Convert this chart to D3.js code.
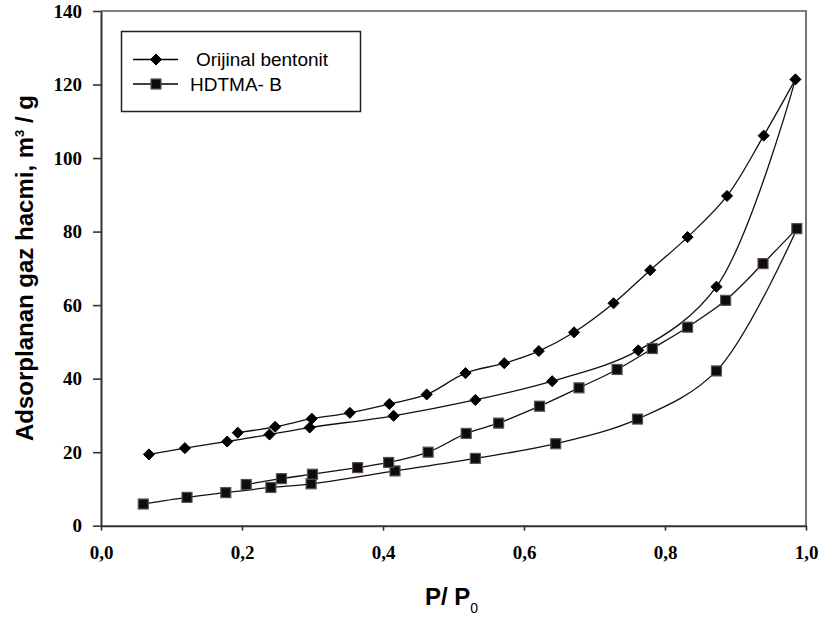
<!DOCTYPE html>
<html>
<head>
<meta charset="utf-8">
<script src="https://cdn.jsdelivr.net/npm/d3@7"></script>
<style>
  body { margin: 0; background: #fff; }
  svg { display: block; }
</style>
</head>
<body>
<div id="scene"></div>
<script>
// relative pressure P/P0 and adsorbed volume, per branch
var origAdsP = [0.068, 0.119, 0.179, 0.239, 0.296, 0.415, 0.531, 0.640, 0.762, 0.873, 0.985];
var origAdsV = [19.4, 21.1, 22.9, 24.8, 26.7, 29.9, 34.2, 39.3, 47.7, 65.0, 121.4];
var origDesP = [0.940, 0.888, 0.832, 0.779, 0.727, 0.671, 0.621, 0.572, 0.517, 0.462, 0.409, 0.353, 0.299, 0.247, 0.194];
var origDesV = [106.1, 89.7, 78.5, 69.5, 60.5, 52.6, 47.5, 44.2, 41.5, 35.7, 33.1, 30.7, 29.1, 26.9, 25.3];

var hdtmaAdsP = [0.060, 0.122, 0.177, 0.241, 0.298, 0.417, 0.531, 0.645, 0.761, 0.873, 0.987];
var hdtmaAdsV = [5.9, 7.7, 9.0, 10.4, 11.4, 14.9, 18.3, 22.3, 29.0, 42.1, 80.8];
var hdtmaDesP = [0.939, 0.886, 0.832, 0.782, 0.732, 0.678, 0.622, 0.564, 0.518, 0.464, 0.408, 0.364, 0.300, 0.256, 0.206];
var hdtmaDesV = [71.3, 61.3, 54.0, 48.2, 42.5, 37.5, 32.5, 27.9, 25.1, 20.0, 17.2, 15.8, 14.0, 12.8, 11.2];

var xTicks = [0, 0.2, 0.4, 0.6, 0.8, 1.0];
var yTicks = [0, 20, 40, 60, 80, 100, 120, 140];
var seriesNames = ["Orijinal bentonit", "HDTMA- B"];

var ctx = { w: 821, h: 619, left: 101, right: 806, top: 11, bottom: 525.7 };

var svg = d3.select("#scene").append("svg")
  .attr("width", ctx.w)
  .attr("height", ctx.h);

var x = d3.scaleLinear().domain([0, 1]).range([ctx.left, ctx.right]);
var y = d3.scaleLinear().domain([0, 140]).range([ctx.bottom, ctx.top]);

var zip = function (px, py) {
  return px.map(function (p, i) { return [p, py[i]]; });
};

// frame (top and right)
svg.append("path")
  .attr("d", "M" + ctx.left + "," + ctx.top + "H" + ctx.right + "V" + ctx.bottom)
  .attr("fill", "none")
  .attr("stroke", "#555")
  .attr("stroke-width", 1.6);

// axes
var xAxis = svg.append("g")
  .attr("transform", "translate(0," + ctx.bottom + ")")
  .call(d3.axisBottom(x).tickValues(xTicks).tickSize(5).tickSizeOuter(0)
    .tickFormat(function (d) { return d3.format(".1f")(d).replace(".", ","); }));

var yAxis = svg.append("g")
  .attr("transform", "translate(" + ctx.left + ",0)")
  .call(d3.axisLeft(y).tickValues(yTicks).tickSize(8).tickSizeOuter(0));

[xAxis, yAxis].forEach(function (ax) {
  ax.attr("font-family", "'Liberation Serif', 'Times New Roman', serif");
  ax.select(".domain").attr("stroke", "#333").attr("stroke-width", 2);
  ax.selectAll(".tick line").attr("stroke", "#333").attr("stroke-width", 1.6);
  ax.selectAll(".tick text")
    .attr("fill", "#000")
    .style("font-family", "'Liberation Serif', 'Times New Roman', serif")
    .style("font-weight", "bold")
    .style("font-size", "19px");
});
xAxis.selectAll(".tick text").attr("y", 33.5).attr("dy", 0);
yAxis.selectAll(".tick text").attr("x", -19);

// curves
var line = d3.line()
  .x(function (d) { return x(d[0]); })
  .y(function (d) { return y(d[1]); })
  .curve(d3.curveCatmullRom.alpha(0.5));

var branches = [
  zip(origAdsP, origAdsV),
  [[origAdsP[origAdsP.length - 1], origAdsV[origAdsV.length - 1]]].concat(zip(origDesP, origDesV)),
  zip(hdtmaAdsP, hdtmaAdsV),
  [[hdtmaAdsP[hdtmaAdsP.length - 1], hdtmaAdsV[hdtmaAdsV.length - 1]]].concat(zip(hdtmaDesP, hdtmaDesV))
];

svg.selectAll(".branch")
  .data(branches)
  .enter()
  .append("path")
  .attr("class", "branch")
  .attr("d", line)
  .attr("fill", "none")
  .attr("stroke", "#111")
  .attr("stroke-width", 1.3);

var diamond = d3.symbol().type(d3.symbolDiamond2).size(78);

var drawDiamond = function (g, cx, cy) {
  g.append("path")
    .attr("d", diamond())
    .attr("transform", "translate(" + cx + "," + cy + ")")
    .attr("fill", "#000")
    .attr("stroke", "#000")
    .attr("stroke-width", 1);
};

var drawSquare = function (g, cx, cy) {
  g.append("rect")
    .attr("x", cx - 5)
    .attr("y", cy - 5)
    .attr("width", 10)
    .attr("height", 10)
    .attr("fill", "#0d0d0d")
    .attr("stroke", "#5e514c")
    .attr("stroke-width", 1.2);
};

var marks = svg.append("g");
zip(origAdsP.concat(origDesP), origAdsV.concat(origDesV)).forEach(function (d) {
  drawDiamond(marks, x(d[0]), y(d[1]));
});
zip(hdtmaAdsP.concat(hdtmaDesP), hdtmaAdsV.concat(hdtmaDesV)).forEach(function (d) {
  drawSquare(marks, x(d[0]), y(d[1]));
});

// legend
var legend = svg.append("g");
legend.append("rect")
  .attr("x", 121.5).attr("y", 31.5)
  .attr("width", 239).attr("height", 80)
  .attr("fill", "#fff")
  .attr("stroke", "#222")
  .attr("stroke-width", 1.5);

var rowsY = [59.5, 84];
var textX = [196, 190];
seriesNames.forEach(function (name, i) {
  legend.append("line")
    .attr("x1", 133).attr("x2", 178)
    .attr("y1", rowsY[i]).attr("y2", rowsY[i])
    .attr("stroke", "#000").attr("stroke-width", 1.3);
  if (i === 0) drawDiamond(legend, 156, rowsY[i]);
  else drawSquare(legend, 156, rowsY[i]);
  legend.append("text")
    .attr("x", textX[i])
    .attr("y", rowsY[i] + 6.5)
    .style("font-family", "'Liberation Sans', Arial, sans-serif")
    .style("font-size", "19px")
    .text(name);
});

// axis titles
var yTitle = svg.append("text")
  .attr("transform", "translate(33,268) rotate(-90)")
  .attr("text-anchor", "middle")
  .style("font-family", "'Liberation Sans', Arial, sans-serif")
  .style("font-weight", "bold")
  .style("font-size", "24px");
yTitle.append("tspan").text("Adsorplanan gaz hacmi, m");
yTitle.append("tspan").attr("dy", -9).style("font-size", "13px").text("3");
yTitle.append("tspan").attr("dy", 9).text(" / g");

var xTitle = svg.append("text")
  .attr("x", 425)
  .attr("y", 605)
  .style("font-family", "'Liberation Sans', Arial, sans-serif")
  .style("font-weight", "bold")
  .style("font-size", "24px");
xTitle.append("tspan").text("P/ P");
xTitle.append("tspan").attr("dy", 8).style("font-size", "14px").style("font-weight", "normal").text("0");
</script>
</body>
</html>
